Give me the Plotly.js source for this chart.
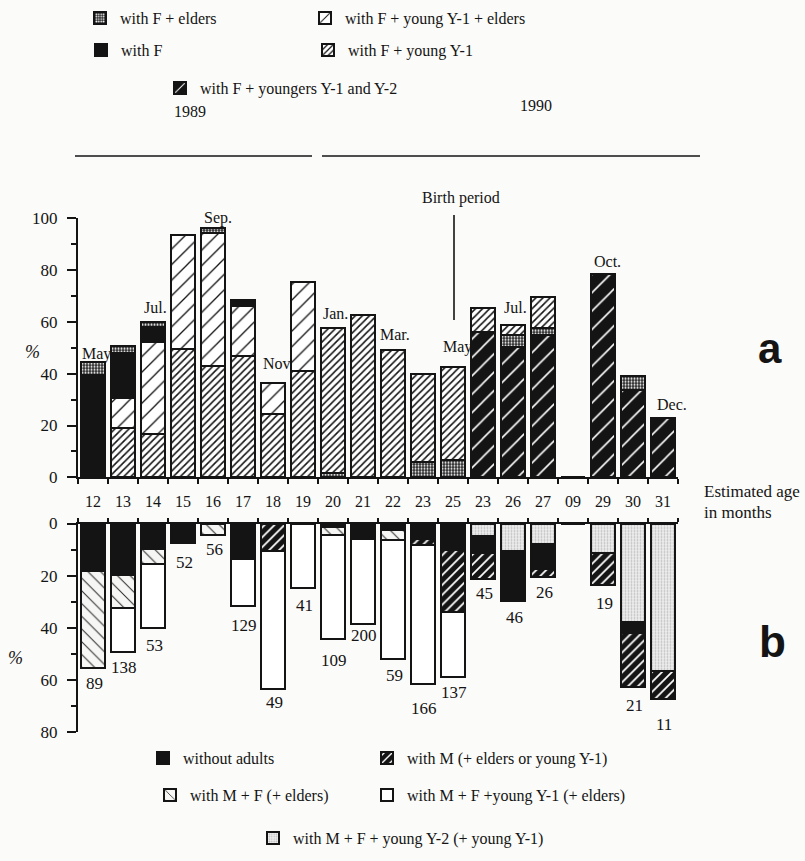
<!DOCTYPE html>
<html>
<head>
<meta charset="utf-8">
<script src="https://cdn.plot.ly/plotly-3.0.1.min.js"></script>
<style>
html,body{margin:0;padding:0;background:#fbfbf9;}
#chart{width:805px;height:861px;}
</style>
</head>
<body>
<div id="chart"></div>
<script>
// ---------- data ----------
const ageLabels = ['12','13','14','15','16','17','18','19','20','21','22','23','25','23','26','27','09','29','30','31'];
const monthLabels = ['May','','Jul.','','Sep.','','Nov','','Jan.','','Mar.','','May','','Jul.','','','Oct.','','Dec.'];

// panel a (% of young, stacked from 0 upward)
const fYoungersY1Y2 = [0,0,0,0,0,0,0,0,0,0,0,0,0,56.2,50.5,55,0,78.4,33.7,22.8];
const fEldersLower  = [0,0,0,0,0,0,0,0,1.5,0,0,6,6.5,0,4.5,2.5,0,0,5.4,0];
const fYoungY1      = [0,19,16.8,49.6,43.1,46.9,24.3,41,56,62.7,49.3,33.8,36.2,9,3.8,12.2,0,0,0,0];
const fYoungY1Elders= [0,11.5,35.3,44.1,51.4,19.2,12.2,34.3,0,0,0,0,0,0,0,0,0,0,0,0];
const fOnly         = [39.5,17.5,5.9,0,0,2.3,0,0,0,0,0,0,0,0,0,0,0,0,0,0];
const fEldersUpper  = [5,2.6,1.8,0,1.6,0,0,0,0,0,0,0,0,0,0,0,0,0,0,0];

// panel b (% of young, stacked from 0 downward)
const mfYoungY2     = [0,0,0,0,0,0,0,0,0,0,0,0,0,4.7,10.7,7.7,0,11.5,37.9,56.6];
const withoutAdults = [18.2,19.9,9.8,7.4,0,13.8,0,0,1.5,6,2.5,6,10,6.8,19,9.6,0,0,4.2,0];
const withM         = [0,0,0,0,0,0,10.5,0,0,0,0,2.3,24,9.7,0,3.2,0,12,20.9,10.9];
const mfElders      = [37.3,12.6,5.8,0,4.4,0,0,0,2.9,0,3.9,0,0,0,0,0,0,0,0,0];
const mfYoungY1     = [0,17,24.5,0,0,17.9,53.1,24.6,39.9,32.8,45.6,53.4,25.1,0,0,0,0,0,0,0];
const sampleSizes   = [89,138,53,52,56,129,49,41,109,200,59,166,137,45,46,26,null,19,21,11];

// ---------- style ----------
const W = 805, H = 861;
const SERIF = 'Liberation Serif, Times New Roman, serif';
const INK = '#141414';
const BG = '#fbfbf9';
const px = v => v / W;
const py = v => 1 - v / H;
const idx = ageLabels.map((_, i) => i);

// label offsets (pixels) – styling only
const monthYShift = [8,0,15,0,10,0,19,0,15,0,15,0,20,0,18,0,0,13,0,14];
const monthXShift = [3,0,2,0,5,0,4,0,2,0,2,0,4,0,2,0,0,4,0,9];
const nYShift = [16,15,18,20,15,19,13,18,22,11,17,24,15,15,17,16,0,19,18,25];

function sum(arrs){ return idx.map(i => arrs.reduce((s,a)=>s+a[i],0)); }
const totalA = sum([fYoungersY1Y2,fEldersLower,fYoungY1,fYoungY1Elders,fOnly,fEldersUpper]);
const totalB = sum([mfYoungY2,withoutAdults,withM,mfElders,mfYoungY1]);

function bar(name, vals, marker, xa, ya, legend, showlegend){
  return {
    type:'bar', name:name, x:idx, y:vals, xaxis:xa, yaxis:ya,
    width:0.8, legend:legend, showlegend:showlegend,
    marker:Object.assign({line:{color:INK,width:2}}, marker),
    hoverinfo:'skip'
  };
}
const P = (shape,bg,fg,size,sol) => ({color:bg, pattern:{shape:shape,bgcolor:bg,fgcolor:fg,size:size,solidity:sol,fillmode:'replace'}});

const stipple = P('.', '#2a2a2a', '#ffffff', 3, 0.35);
const traces = [
  bar('with F + youngers Y-1 and Y-2', fYoungersY1Y2, P('/', INK, '#ffffff', 13, 0.12), 'x','y','legend5',true),
  bar('with F + elders', fEldersLower, stipple, 'x','y','legend',false),
  bar('with F + young Y-1', fYoungY1, P('/', '#ffffff', INK, 5, 0.32), 'x','y','legend4',true),
  bar('with F + young Y-1 + elders', fYoungY1Elders, P('/', '#ffffff', INK, 11, 0.12), 'x','y','legend3',true),
  bar('with F', fOnly, {color:INK}, 'x','y','legend2',true),
  bar('with F + elders', fEldersUpper, stipple, 'x','y','legend',true),

  bar('with M + F + young Y-2 (+ young Y-1)', mfYoungY2, P('.', '#eeeeee', '#bdbdbd', 3, 0.3), 'x2','y2','legend10',true),
  bar('without adults', withoutAdults, {color:INK}, 'x2','y2','legend6',true),
  bar('with M (+ elders or young Y-1)', withM, P('/', INK, '#ffffff', 7, 0.25), 'x2','y2','legend7',true),
  bar('with M + F (+ elders)', mfElders, P('\\', '#f6f6f4', '#2a2a2a', 9, 0.11), 'x2','y2','legend8',true),
  bar('with M + F +young Y-1 (+ elders)', mfYoungY1, {color:'#ffffff'}, 'x2','y2','legend9',true)
];

function lg(textX, textY){
  return {x:px(textX-40), y:py(textY), xanchor:'left', yanchor:'middle',
    bgcolor:'rgba(0,0,0,0)', borderwidth:0, orientation:'v',
    font:{family:SERIF,size:16,color:INK}, itemclick:false, itemdoubleclick:false};
}

const annotations = [];
// month labels
idx.forEach(i => {
  if (monthLabels[i]) annotations.push({xref:'x',yref:'y',x:i,y:totalA[i],text:monthLabels[i],
    showarrow:false,yanchor:'middle',yshift:monthYShift[i],xshift:monthXShift[i],
    font:{family:SERIF,size:16,color:INK}});
});
// sample sizes
idx.forEach(i => {
  if (sampleSizes[i] !== null) annotations.push({xref:'x2',yref:'y2',x:i,y:totalB[i],text:String(sampleSizes[i]),
    showarrow:false,yanchor:'middle',yshift:-nYShift[i],xshift:1,
    font:{family:SERIF,size:17,color:INK}});
});
const txt = (x,y,t,size,extra) => Object.assign({xref:'paper',yref:'paper',x:px(x),y:py(y),text:t,showarrow:false,
  xanchor:'center',yanchor:'middle',font:{family:SERIF,size:size,color:INK}}, extra||{});
annotations.push(
  txt(190,111,'1989',16),
  txt(536,106,'1990',16),
  txt(461,198,'Birth period',16),
  txt(32,352,'<i>%</i>',18),
  txt(15,658,'<i>%</i>',18),
  txt(702,491,'Estimated age',17,{xanchor:'left'}),
  txt(702,512,'in months',17,{xanchor:'left'}),
  txt(770,348,'<b>a</b>',42,{font:{family:'Liberation Sans, Arial, sans-serif',size:42,color:INK}}),
  txt(772,641,'<b>b</b>',44,{font:{family:'Liberation Sans, Arial, sans-serif',size:44,color:INK}})
);

const shapes = [
  {type:'line',xref:'paper',yref:'paper',x0:px(75),x1:px(312),y0:py(156),y1:py(156),line:{color:INK,width:1.6}},
  {type:'line',xref:'paper',yref:'paper',x0:px(322),x1:px(700),y0:py(156),y1:py(156),line:{color:INK,width:1.6}},
  {type:'line',xref:'paper',yref:'paper',x0:px(454),x1:px(454),y0:py(215),y1:py(320),line:{color:INK,width:1.6}}
];

const xDomain = [px(78), px(678)];
const boundaries = idx.map(i => i - 0.5).concat([19.5]);
const axFont = {family:SERIF,size:16,color:INK};
const layout = {
  width:W, height:H, autosize:false,
  margin:{l:0,r:0,t:0,b:0},
  paper_bgcolor:BG, plot_bgcolor:'rgba(0,0,0,0)',
  barmode:'stack', bargap:0.2, showlegend:true,
  xaxis:{domain:xDomain, range:[-0.5,19.5], anchor:'y', showline:true, linecolor:INK, linewidth:2,
    tickmode:'array', tickvals:idx, ticktext:ageLabels, ticks:'', tickfont:axFont, ticklabelstandoff:8,
    showgrid:false, zeroline:false, fixedrange:true,
    minor:{tickmode:'array', tickvals:boundaries, ticks:'outside', ticklen:5, tickwidth:2, tickcolor:INK, showgrid:false}},
  yaxis:{domain:[py(477.3), py(218.3)], range:[0,100], anchor:'x', showline:true, linecolor:INK, linewidth:2,
    tickmode:'linear', tick0:0, dtick:20, ticks:'outside', ticklen:9, tickwidth:2, tickcolor:INK,
    tickfont:{family:SERIF,size:17,color:INK}, ticklabelstandoff:6, showgrid:false, zeroline:false, fixedrange:true,
    minor:{tickmode:'linear', tick0:0, dtick:10, ticks:'outside', ticklen:5, tickwidth:2, tickcolor:INK, showgrid:false}},
  xaxis2:{domain:xDomain, range:[-0.5,19.5], anchor:'y2', side:'top', showline:true, linecolor:INK, linewidth:2,
    showticklabels:false, ticks:'', showgrid:false, zeroline:false, fixedrange:true,
    minor:{tickmode:'array', tickvals:boundaries, ticks:'outside', ticklen:4, tickwidth:2, tickcolor:INK, showgrid:false}},
  yaxis2:{domain:[py(731.7), py(523.5)], range:[80,0], anchor:'x2', showline:true, linecolor:INK, linewidth:2,
    tickmode:'linear', tick0:0, dtick:20, ticks:'outside', ticklen:9, tickwidth:2, tickcolor:INK,
    tickfont:{family:SERIF,size:17,color:INK}, ticklabelstandoff:6, showgrid:false, zeroline:false, fixedrange:true,
    minor:{tickmode:'linear', tick0:0, dtick:10, ticks:'outside', ticklen:5, tickwidth:2, tickcolor:INK, showgrid:false}},
  legend:lg(120,18), legend2:lg(121,50), legend3:lg(345,18), legend4:lg(348,50), legend5:lg(200,88),
  legend6:lg(183,758), legend7:lg(407,758), legend8:lg(190,795), legend9:lg(407,795), legend10:lg(293,838),
  annotations:annotations, shapes:shapes
};

Plotly.newPlot('chart', traces, layout, {displayModeBar:false, staticPlot:true});
</script>
</body>
</html>
